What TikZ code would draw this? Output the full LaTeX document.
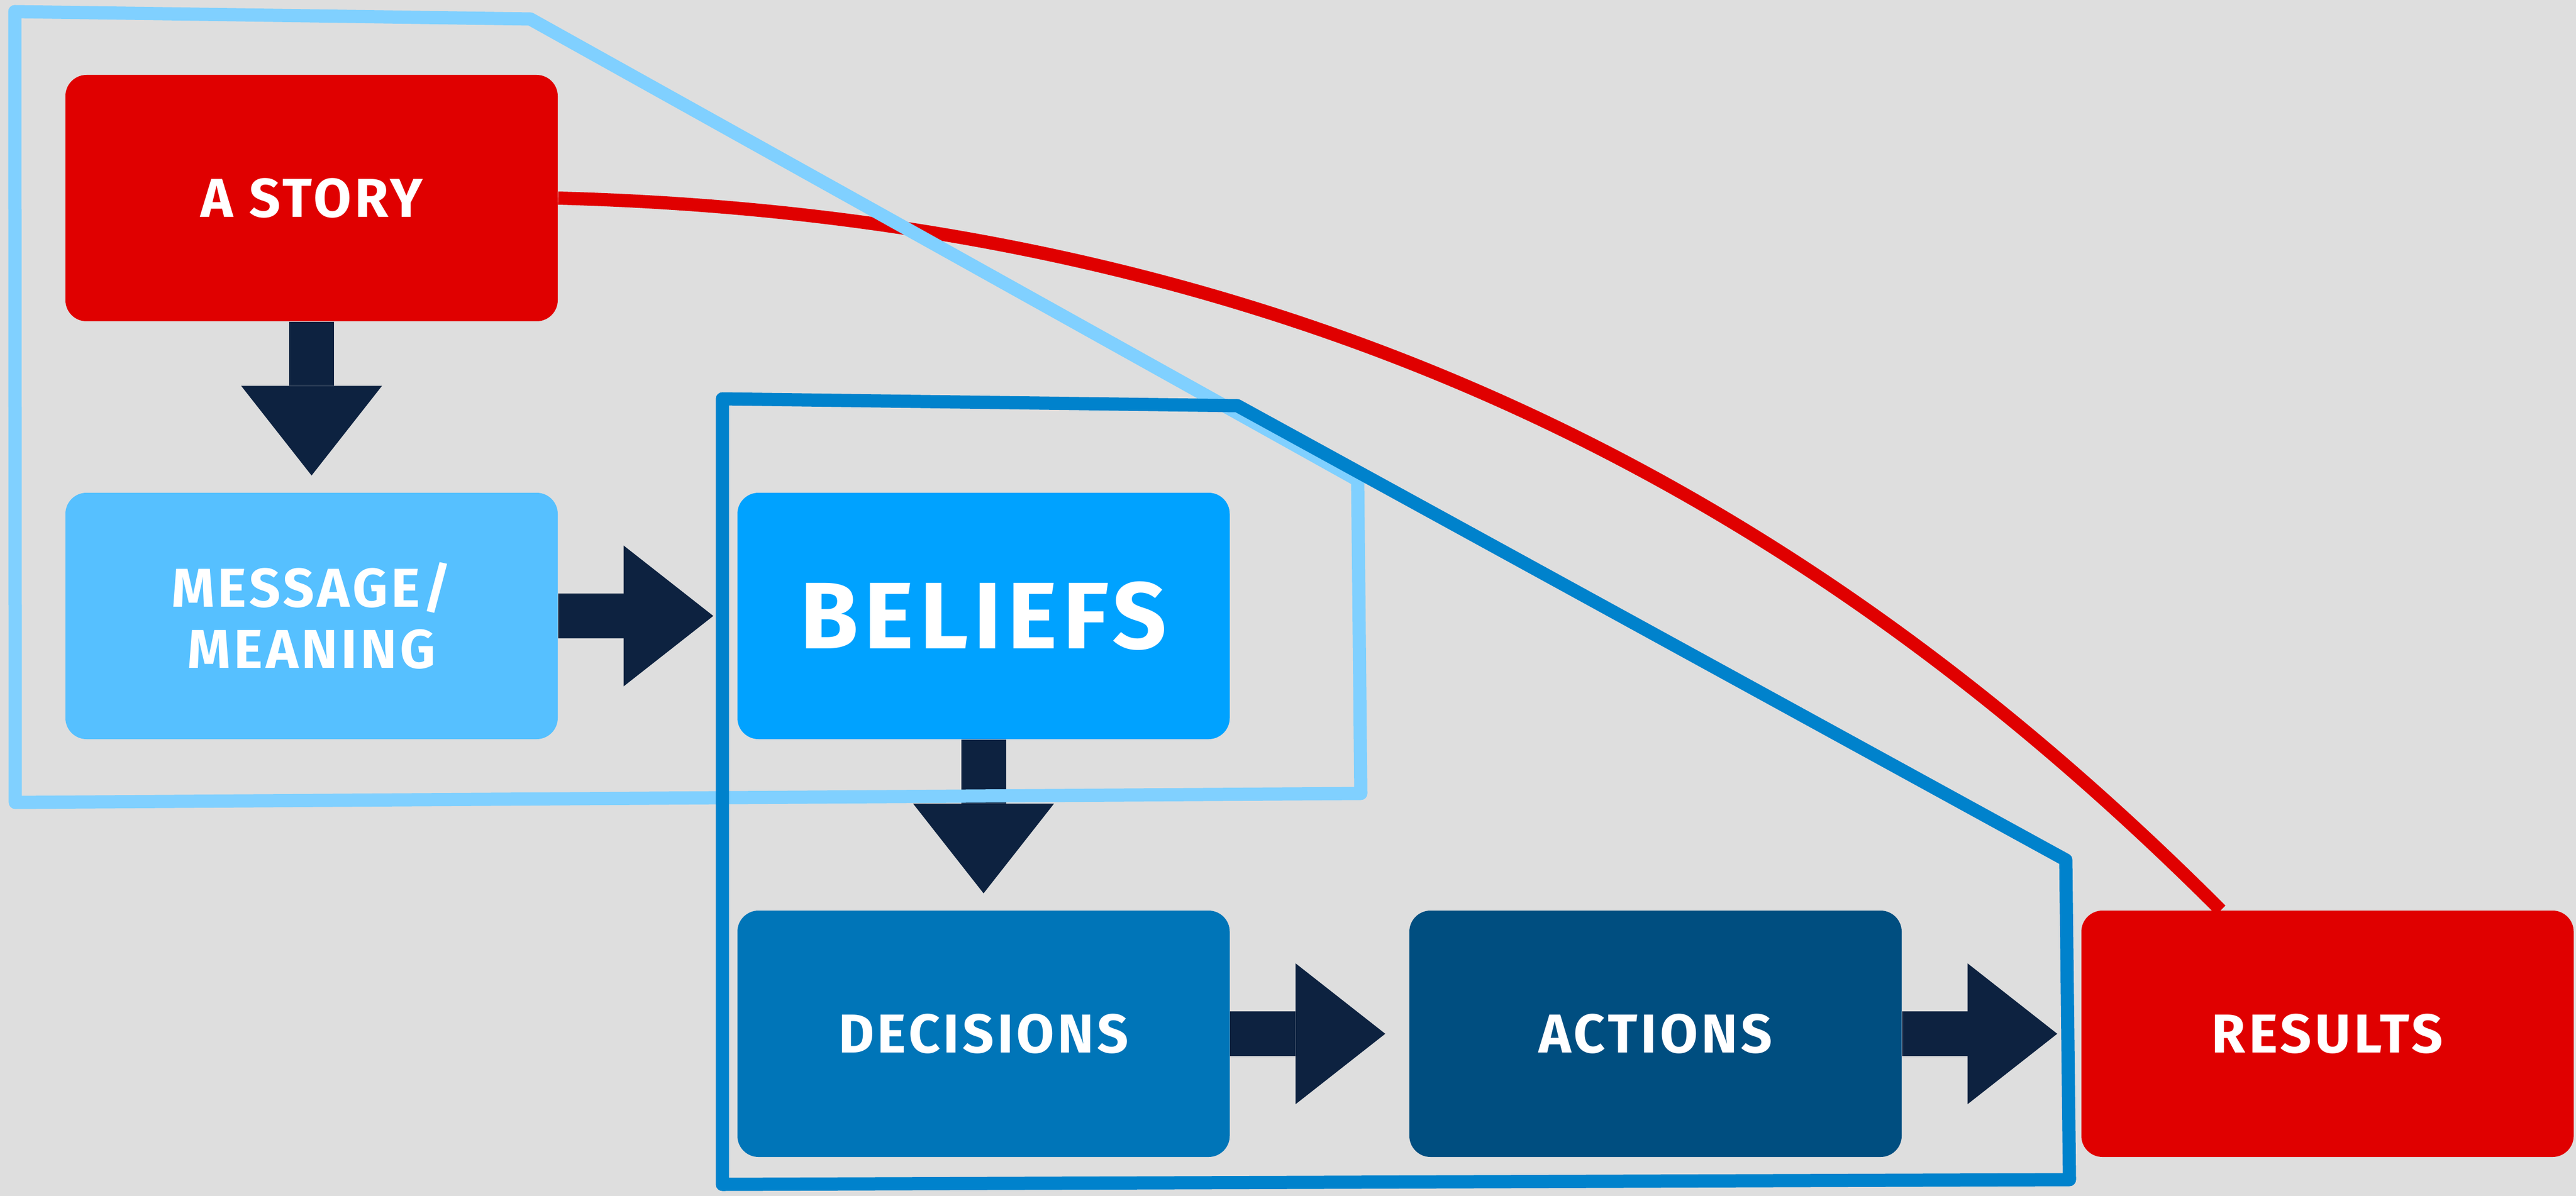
\documentclass[tikz,border=0pt]{standalone}
\usepackage{fontspec}
\setmainfont{Fira Sans}
\newfontfamily\boxfont{Fira Sans}[LetterSpace=6]
\usetikzlibrary{arrows.meta,calc}

\definecolor{bg}{HTML}{DEDEDE}
\definecolor{storyred}{HTML}{E00000}
\definecolor{msgblue}{HTML}{56C0FF}
\definecolor{beliefblue}{HTML}{00A2FF}
\definecolor{decisionblue}{HTML}{0075B8}
\definecolor{actionblue}{HTML}{004E80}
\definecolor{navy}{HTML}{0D2240}
\definecolor{lightframe}{HTML}{80D0FF}
\definecolor{darkframe}{HTML}{0082CC}

\def\hsep{12.735}
\def\vsep{7.92}

\begin{document}
\begin{tikzpicture}[
    box/.style={rounded corners=0.4cm,minimum width=9.33cm,minimum height=4.67cm,inner sep=0pt,
      text=white,align=center,font=\boxfont\bfseries\fontsize{29.5}{33}\selectfont},
    fatarrow/.style={draw=navy,line width=0.85cm,shorten >=0.45cm,
      -{Triangle[length=1.7cm,width=2.67cm,line width=0pt]}},
    frame/.style={line width=0.25cm,line join=round}]

    \fill[bg] (0,0) rectangle (48.82,-22.67);

    \node[box,fill=storyred] (story) at (5.905,-3.755) {A STORY};
    \node[box,fill=msgblue] (message) at (5.905,-3.755-1*\vsep) {MESSAGE/\\MEANING};
    \node[box,fill=beliefblue,font=\boxfont\bfseries\fontsize{51}{56}\selectfont] (beliefs) at (5.905+1*\hsep,-3.755-1*\vsep) {BELIEFS};
    \node[box,fill=decisionblue] (decisions) at (5.905+1*\hsep,-3.755-2*\vsep) {DECISIONS};
    \node[box,fill=actionblue] (actions) at (5.905+2*\hsep,-3.755-2*\vsep) {ACTIONS};
    \node[box,fill=storyred] (results) at (5.905+3*\hsep,-3.755-2*\vsep) {RESULTS};

    \draw[fatarrow,shorten >=0.32cm] (story) -- (message);
    \draw[fatarrow] (message) -- (beliefs);
    \draw[fatarrow,shorten >=0.32cm] (beliefs) -- (decisions);
    \draw[fatarrow] (decisions) -- (actions);
    \draw[fatarrow] (actions) -- (results);

    \draw[frame,storyred] (story.east) .. controls +(15,-0.4) and +(-7.07,7.07) .. ($(results.north west)+(2.65,0)$);

    \draw[frame,lightframe] (0.28,-0.22) -- (10.05,-0.36) -- (25.73,-9.1) -- (25.79,-15.04) -- (0.29,-15.21) -- cycle;
    \draw[frame,darkframe] (13.69,-7.56) -- (23.45,-7.69) -- (39.15,-16.3) -- (39.22,-22.36) -- (13.69,-22.45) -- cycle;

  \end{tikzpicture}
\end{document}
